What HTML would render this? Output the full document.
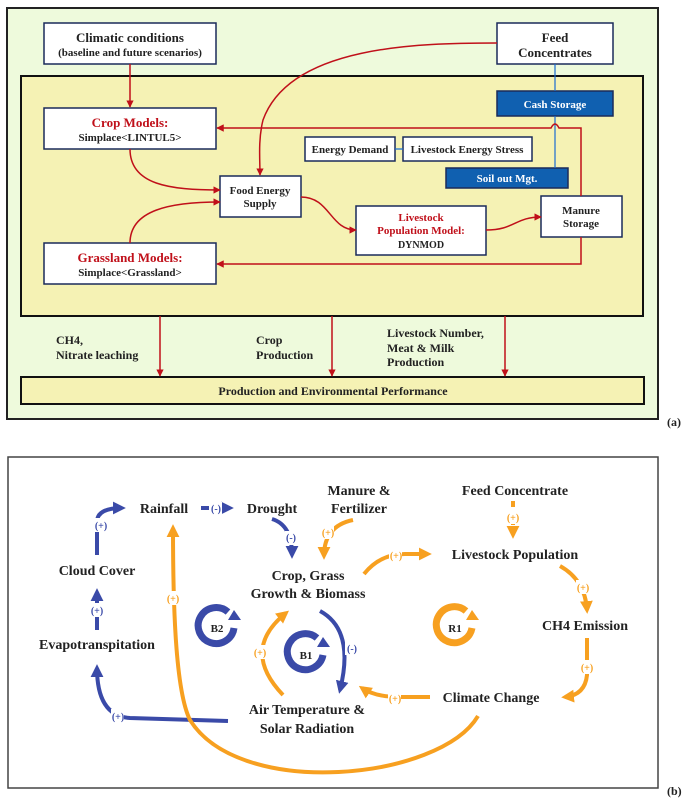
<!DOCTYPE html>
<html><head><meta charset="utf-8"><style>
html,body{margin:0;padding:0;background:#fff;width:685px;height:799px;overflow:hidden}
svg{display:block}
text{font-family:"Liberation Serif",serif;font-weight:bold}
</style></head><body>
<svg width="685" height="799" viewBox="0 0 685 799" xmlns="http://www.w3.org/2000/svg">
<defs>
<marker id="ar" viewBox="0 0 10 10" refX="9" refY="5" markerWidth="5" markerHeight="5" orient="auto"><path d="M0,0L10,5L0,10z" fill="#c0101a"/></marker>
<marker id="ab" viewBox="0 0 10 10" refX="7" refY="5" markerWidth="3.2" markerHeight="3.2" orient="auto"><path d="M0,0L10,5L0,10z" fill="#3a4aa8"/></marker>
<marker id="ao" viewBox="0 0 10 10" refX="7" refY="5" markerWidth="3.2" markerHeight="3.2" orient="auto"><path d="M0,0L10,5L0,10z" fill="#f7a020"/></marker>
</defs>
<!-- Panel a -->
<rect x="7" y="8" width="651" height="411" fill="#eefadc" stroke="#222" stroke-width="2"/>
<rect x="21" y="76" width="622" height="240" fill="#f5f2b4" stroke="#111" stroke-width="2"/>
<rect x="21" y="377" width="623" height="27" fill="#f5f2b4" stroke="#111" stroke-width="2"/>
<g stroke="#1a2a5a" stroke-width="1.5" fill="#fff">
<rect x="44" y="23" width="172" height="41"/>
<rect x="497" y="23" width="116" height="41"/>
<rect x="44" y="108" width="172" height="41"/>
<rect x="305" y="137" width="90" height="24"/>
<rect x="403" y="137" width="129" height="24"/>
<rect x="220" y="176" width="81" height="41"/>
<rect x="356" y="206" width="130" height="49"/>
<rect x="541" y="196" width="81" height="41"/>
<rect x="44" y="243" width="172" height="41"/>
<rect x="497" y="91" width="116" height="25" fill="#1060b0"/>
<rect x="446" y="168" width="122" height="20" fill="#1060b0"/>
</g>
<g fill="none" stroke="#1a6cd0" stroke-width="1.2">
<path d="M555 64V91M555 116V168M395 149H403"/>
</g>
<g fill="none" stroke="#c0101a" stroke-width="1.5">
<path d="M130 64V107" marker-end="url(#ar)"/>
<path d="M497 43C420 43 290 45 263 120C258 140 260 160 260 175" marker-end="url(#ar)"/>
<path d="M581 196V128H559Q555 120 551 128H217" marker-end="url(#ar)"/>
<path d="M130 149C130 185 170 190 220 190" marker-end="url(#ar)"/>
<path d="M130 243C130 210 170 202 220 202" marker-end="url(#ar)"/>
<path d="M301 197C330 197 330 230 356 230" marker-end="url(#ar)"/>
<path d="M486 230C515 230 515 217 541 217" marker-end="url(#ar)"/>
<path d="M581 237V264H217" marker-end="url(#ar)"/>
<path d="M160 316V376" marker-end="url(#ar)"/>
<path d="M332 316V376" marker-end="url(#ar)"/>
<path d="M505 316V376" marker-end="url(#ar)"/>
</g>
<g text-anchor="middle" font-size="12" fill="#222">
<text x="130" y="42" font-size="13">Climatic conditions</text>
<text x="130" y="56" font-size="11">(baseline and future scenarios)</text>
<text x="555" y="42" font-size="13">Feed</text>
<text x="555" y="57" font-size="13">Concentrates</text>
<text x="555" y="108" fill="#fff" font-size="11">Cash Storage</text>
<text x="130" y="127" fill="#c0101a" font-size="13">Crop Models:</text>
<text x="130" y="141" font-size="11">Simplace&lt;LINTUL5&gt;</text>
<text x="350" y="153" font-size="11">Energy Demand</text>
<text x="467" y="153" font-size="11">Livestock Energy Stress</text>
<text x="507" y="182" fill="#fff" font-size="11">Soil out Mgt.</text>
<text x="260" y="194" font-size="11">Food Energy</text>
<text x="260" y="207" font-size="11">Supply</text>
<text x="421" y="221" fill="#c0101a" font-size="11">Livestock</text>
<text x="421" y="234" fill="#c0101a" font-size="11">Population Model:</text>
<text x="421" y="248" font-size="10">DYNMOD</text>
<text x="581" y="214" font-size="11">Manure</text>
<text x="581" y="227" font-size="11">Storage</text>
<text x="130" y="262" fill="#c0101a" font-size="13">Grassland Models:</text>
<text x="130" y="276" font-size="11">Simplace&lt;Grassland&gt;</text>
<text x="333" y="395" font-size="12">Production and Environmental Performance</text>
</g>
<g font-size="12" fill="#222">
<text x="56" y="344">CH4,</text><text x="56" y="359">Nitrate leaching</text>
<text x="256" y="344">Crop</text><text x="256" y="359">Production</text>
<text x="387" y="337">Livestock Number,</text><text x="387" y="352">Meat &amp; Milk</text><text x="387" y="366">Production</text>
<text x="667" y="426" font-family="Liberation Sans" font-weight="normal">(a)</text>
<text x="667" y="795" font-family="Liberation Sans" font-weight="normal">(b)</text>
</g>
<!-- Panel b -->
<rect x="8" y="457" width="650" height="331" fill="#fff" stroke="#444" stroke-width="1.5"/>
<g fill="none" stroke-width="4" stroke-linecap="butt">
<g stroke="#3a4aa8">
<path d="M97 555V522Q97 508 122 508" marker-end="url(#ab)"/>
<path d="M97 630V592" marker-end="url(#ab)"/>
<path d="M228 721L130 718Q97 716 97 668" marker-end="url(#ab)"/>
<path d="M201 508H230" marker-end="url(#ab)"/>
<path d="M272 519Q292 525 292 555" marker-end="url(#ab)"/>
<path d="M320 611Q355 630 340 690" marker-end="url(#ab)"/>
</g>
<g stroke="#f7a020">
<path d="M353 520Q324 526 324 556" marker-end="url(#ao)"/>
<path d="M513 501V535" stroke-dasharray="6 3" marker-end="url(#ao)"/>
<path d="M364 574Q380 554 405 554H428" marker-end="url(#ao)"/>
<path d="M560 566Q585 580 587 610" marker-end="url(#ao)"/>
<path d="M587 638V675Q585 695 565 697" marker-end="url(#ao)"/>
<path d="M430 697H400Q375 697 362 688" marker-end="url(#ao)"/>
<path d="M478 716C440 780 240 800 190 720C175 690 173 600 173 528" marker-end="url(#ao)"/>
<path d="M283 695Q240 650 286 613" marker-end="url(#ao)"/>
</g>
</g>
<g fill="none" stroke-width="7">
<path d="M228 612A18 18 0 1 0 234 628" stroke="#3a4aa8"/>
<path d="M317 638A18 18 0 1 0 323 655" stroke="#3a4aa8"/>
<path d="M466 611A18 18 0 1 0 472 628" stroke="#f7a020"/>
</g>
<path d="M228 620L241 620L234 610z" fill="#3a4aa8"/>
<path d="M317 647L330 647L323 637z" fill="#3a4aa8"/>
<path d="M466 620L479 620L472 610z" fill="#f7a020"/>
<g font-size="11" text-anchor="middle">
<text x="217" y="632" fill="#222">B2</text>
<text x="306" y="659" fill="#222">B1</text>
<text x="455" y="632" fill="#222">R1</text>
</g>
<g font-size="10" text-anchor="middle" font-family="Liberation Sans" font-weight="normal">
<g>
<rect x="94" y="518" width="13" height="14" fill="#fff"/><text x="101" y="529" fill="#3a4aa8">(+)</text>
<rect x="91" y="603" width="13" height="14" fill="#fff"/><text x="97" y="614" fill="#3a4aa8">(+)</text>
<rect x="111" y="709" width="13" height="14" fill="#fff"/><text x="118" y="720" fill="#3a4aa8">(+)</text>
<rect x="209" y="502" width="13" height="14" fill="#fff"/><text x="216" y="512" fill="#3a4aa8">(-)</text>
<rect x="285" y="531" width="13" height="14" fill="#fff"/><text x="291" y="541" fill="#3a4aa8">(-)</text>
<rect x="345" y="641" width="13" height="14" fill="#fff"/><text x="352" y="652" fill="#3a4aa8">(-)</text>
</g>
<g>
<rect x="321" y="525" width="13" height="14" fill="#fff"/><text x="328" y="536" fill="#f7a020">(+)</text>
<rect x="506" y="510" width="13" height="14" fill="#fff"/><text x="513" y="521" fill="#f7a020">(+)</text>
<rect x="389" y="548" width="13" height="14" fill="#fff"/><text x="396" y="559" fill="#f7a020">(+)</text>
<rect x="576" y="580" width="13" height="14" fill="#fff"/><text x="583" y="591" fill="#f7a020">(+)</text>
<rect x="580" y="660" width="13" height="14" fill="#fff"/><text x="587" y="671" fill="#f7a020">(+)</text>
<rect x="388" y="691" width="13" height="14" fill="#fff"/><text x="395" y="702" fill="#f7a020">(+)</text>
<rect x="166" y="591" width="13" height="14" fill="#fff"/><text x="173" y="602" fill="#f7a020">(+)</text>
<rect x="253" y="645" width="13" height="14" fill="#fff"/><text x="260" y="656" fill="#f7a020">(+)</text>
</g>
</g>
<g font-size="14" fill="#222" text-anchor="middle">
<text x="164" y="513">Rainfall</text>
<text x="272" y="513">Drought</text>
<text x="359" y="495">Manure &amp;</text>
<text x="359" y="513">Fertilizer</text>
<text x="515" y="495">Feed Concentrate</text>
<text x="515" y="559">Livestock Population</text>
<text x="97" y="575">Cloud Cover</text>
<text x="308" y="580">Crop, Grass</text>
<text x="308" y="598">Growth &amp; Biomass</text>
<text x="97" y="649">Evapotranspitation</text>
<text x="585" y="630">CH4 Emission</text>
<text x="491" y="702">Climate Change</text>
<text x="307" y="714">Air Temperature &amp;</text>
<text x="307" y="733">Solar Radiation</text>
</g>
</svg>
</body></html>
